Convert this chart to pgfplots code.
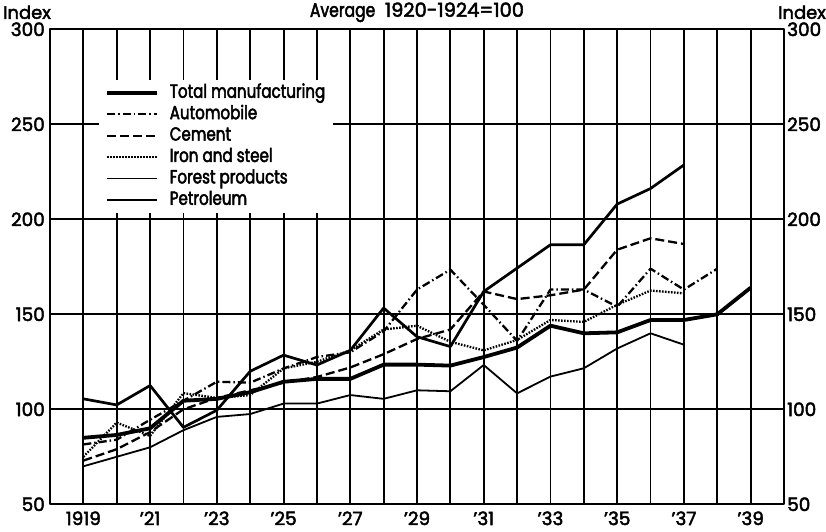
\documentclass[border=0pt]{standalone}
\usepackage{fontspec}
\setmainfont{Poppins}[FakeBold=2.5]
\newfontfamily\narrowfont{Poppins}[FakeStretch=0.8, FakeBold=2.5]
\usepackage{pgfplots}
\pgfplotsset{compat=1.18}
\begin{document}
\fontsize{19}{22}\selectfont
\begin{tikzpicture}
\pgfplotsset{
  common/.style={
    scale only axis, width=734bp, height=475bp,
    xmin=1918, xmax=1940, ymin=50, ymax=300,
    ytick={50,100,...,300},
    tick style={draw=none},
    /pgf/number format/assume math mode=true,
    ticklabel style={font=\fontsize{18.5}{22}\selectfont},
  }
}
\begin{axis}[common, name=ax,
  xtick={1919,1921,...,1939},
  xticklabels={1919,'21,'23,'25,'27,'29,'31,'33,'35,'37,'39},
  minor xtick={1920,1922,...,1938},
  grid=both,
  major grid style={black, line width=1.9bp},
  minor grid style={black, line width=1.9bp},
  axis line style={line width=1.9bp},
  yticklabel style={inner sep=2bp, xshift=-3bp},
  xticklabel style={inner sep=2bp, yshift=-5bp},
  legend cell align=left,
  legend image code/.code={\draw[#1] (0bp,0bp) -- (50bp,0bp);},
  legend style={at={(rel axis cs:0.0667,0.8933)}, anchor=north west,
    draw=none, fill=white, inner xsep=6bp, inner ysep=2bp,
    font=\narrowfont\fontsize{19}{22}\selectfont,
    nodes={inner sep=1.8bp, text height=13.8bp, text depth=4bp},
    /tikz/every odd column/.append style={column sep=9bp}},
  line join=round,
]
% Total manufacturing
\addplot[black, line width=3.8bp] coordinates {
(1919,85) (1920,86.5) (1921,90) (1922,104.5) (1923,105.5) (1924,109) (1925,114.5)
(1926,116) (1927,116) (1928,123.5) (1929,123.5) (1930,123) (1931,127.5) (1932,132.5)
(1933,144) (1934,140) (1935,140.5) (1936,147) (1937,147) (1938,150) (1939,164)};
\addlegendentry{Total manufacturing}
% Automobile
\addplot[black, line width=2.3bp, dash pattern=on 8bp off 3bp on 1.5bp off 3bp] coordinates {
(1919,81.5) (1920,84) (1921,94.5) (1922,104.5) (1923,114.5) (1924,114) (1925,121.5)
(1926,127.5) (1927,130) (1928,141) (1929,163) (1930,173.5) (1931,155) (1932,136)
(1933,163) (1934,163) (1935,154) (1936,174) (1937,163) (1938,174)};
\addlegendentry{Automobile}
% Cement
\addplot[black, line width=2.3bp, dash pattern=on 9bp off 4bp] coordinates {
(1919,73) (1920,79) (1921,88) (1922,100) (1923,106) (1924,110) (1925,114)
(1926,117) (1927,122) (1928,129) (1929,137) (1930,142) (1931,162) (1932,158)
(1933,160) (1934,163) (1935,184) (1936,190) (1937,187)};
\addlegendentry{Cement}
% Iron and steel
\addplot[black, line width=2.3bp, dash pattern=on 1.6bp off 1.4bp] coordinates {
(1919,75) (1920,93) (1921,86) (1922,108.5) (1923,106) (1924,107.5) (1925,121.5)
(1926,125) (1927,131) (1928,142) (1929,144) (1930,135.5) (1931,131) (1932,136.5)
(1933,147) (1934,146) (1935,155) (1936,162.5) (1937,161)};
\addlegendentry{Iron and steel}
% Forest products
\addplot[black, line width=1.8bp] coordinates {
(1919,70) (1920,75) (1921,80) (1922,89) (1923,96) (1924,97.5) (1925,103)
(1926,103) (1927,107.5) (1928,105.5) (1929,110) (1930,109.5) (1931,123.3) (1932,108.4)
(1933,117.2) (1934,121.6) (1935,132) (1936,140) (1937,134)};
\addlegendentry{Forest products}
% Petroleum
\addplot[black, line width=2.7bp] coordinates {
(1919,105.5) (1920,102.3) (1921,112.5) (1922,90.5) (1923,99.5) (1924,120) (1925,128.5)
(1926,123.3) (1927,131) (1928,153.3) (1929,138.2) (1930,133) (1931,162) (1932,174.3)
(1933,186.6) (1934,186.6) (1935,208) (1936,216.2) (1937,228.6)};
\addlegendentry{Petroleum}
\end{axis}
\begin{axis}[common,
  xtick=\empty, yticklabel pos=right,
  axis line style={draw=none},
  yticklabel style={inner sep=2bp, xshift=1bp},
]
\addplot[draw=none] coordinates {(1918,50)};
\end{axis}
\node at ([yshift=17bp]ax.north) {\fontsize{19.5}{22}\selectfont{\narrowfont Average}\hspace{0.5em}1920-1924=100};
\node at ([shift={(-23bp,17bp)}]ax.north west) {\fontsize{18}{22}\selectfont Index};
\node at ([shift={(18bp,17bp)}]ax.north east) {\fontsize{18}{22}\selectfont Index};
\pgfresetboundingbox
\path ([shift={(-50bp,-27.7bp)}]ax.south west) rectangle ([shift={(42bp,29.3bp)}]ax.north east);
\end{tikzpicture}
\end{document}
